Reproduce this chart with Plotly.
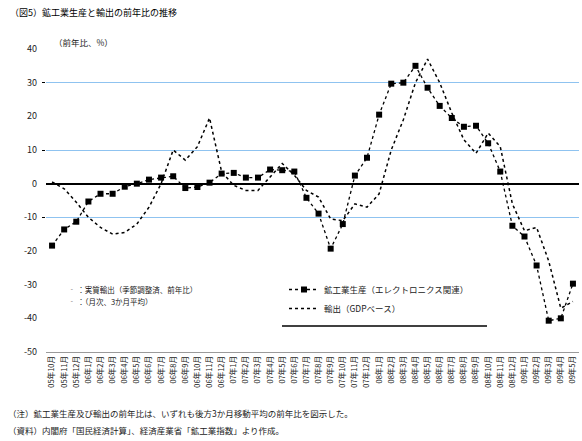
import plotly.graph_objects as go

# ---- data ----
months = ["05年10月", "05年11月", "05年12月",
          "06年1月", "06年2月", "06年3月", "06年4月", "06年5月", "06年6月",
          "06年7月", "06年8月", "06年9月", "06年10月", "06年11月", "06年12月",
          "07年1月", "07年2月", "07年3月", "07年4月", "07年5月", "07年6月",
          "07年7月", "07年8月", "07年9月", "07年10月", "07年11月", "07年12月",
          "08年1月", "08年2月", "08年3月", "08年4月", "08年5月", "08年6月",
          "08年7月", "08年8月", "08年9月", "08年10月", "08年11月", "08年12月",
          "09年1月", "09年2月", "09年3月", "09年4月", "09年5月"]

production = [-18.4, -13.6, -11.3, -5.3, -3.0, -3.0, -0.9, 0.0, 1.2, 1.8,
              2.2, -1.3, -1.0, 0.3, 3.0, 3.2, 1.8, 1.8, 4.2, 4.0,
              3.6, -4.2, -8.9, -19.3, -12.0, 2.4, 7.7, 20.5, 29.7, 30.0,
              35.0, 28.5, 23.1, 19.5, 16.9, 17.2, 12.0, 3.6, -12.5, -15.7,
              -24.3, -40.7, -40.0, -29.7]

exports = [0.5, -1.5, -5.5, -10.0, -13.0, -15.0, -14.5, -12.0, -7.0, 0.0,
           10.0, 7.0, 11.0, 19.5, 3.5, -0.5, -2.0, -2.0, 2.0, 6.0,
           2.5, -2.0, -4.0, -10.5, -11.0, -6.0, -7.0, -3.0, 10.0, 19.0,
           30.0, 37.0, 30.0, 21.0, 13.0, 9.0, 15.0, 11.0, -6.0, -14.0,
           -13.0, -23.0, -37.0, -35.0]

y_ticks = [40, 30, 20, 10, 0, -10, -20, -30, -40, -50]
grid_vals = [30, 10, -10]

name_prod = "鉱工業生産（エレクトロニクス関連）"
name_exp = "輸出（GDPベース）"
title_text = "（図5）鉱工業生産と輸出の前年比の推移"
unit_text = "（前年比、%）"
box_lines = ["‐ ：実質輸出（季節調整済、前年比）", "‐ ：（月次、3か月平均）"]
notes = ["（注）鉱工業生産及び輸出の前年比は、いずれも後方3か月移動平均の前年比を図示した。",
         "（資料）内閣府「国民経済計算」、経済産業省「鉱工業指数」より作成。"]

# ---- layout geometry ----
W, H = 582, 441
L, R, T, B = 46, 3, 49, 89
pw, ph = W - L - R, H - T - B


def px(x):
    return (x - L) / pw


def py(y):
    return (H - B - y) / ph


FONT = "Noto Sans CJK JP"

fig = go.Figure()
fig.add_trace(go.Scatter(
    x=months, y=production, name=name_prod, mode="lines+markers",
    line=dict(color="black", width=1.3, dash="dot"),
    marker=dict(symbol="square", size=6, color="black"),
))
fig.add_trace(go.Scatter(
    x=months, y=exports, name=name_exp, mode="lines",
    line=dict(color="black", width=1.5, dash="dot"),
))

annotations = [
    dict(text=title_text, x=px(8), y=py(13), xref="paper", yref="paper",
         xanchor="left", yanchor="middle", showarrow=False,
         font=dict(size=9, color="black", family=FONT)),
    dict(text=unit_text, x=px(52), y=py(42), xref="paper", yref="paper",
         xanchor="left", yanchor="middle", showarrow=False,
         font=dict(size=8.5, color="#222", family=FONT)),
]
for i, t in enumerate(box_lines):
    annotations.append(dict(text=t, x=px(66), y=py(289 + 12 * i), xref="paper", yref="paper",
                            xanchor="left", yanchor="middle", showarrow=False,
                            bgcolor="white",
                            font=dict(size=7.5, color="#222", family=FONT)))
for i, t in enumerate(notes):
    annotations.append(dict(text=t, x=px(6), y=py(413 + 17 * i), xref="paper", yref="paper",
                            xanchor="left", yanchor="middle", showarrow=False,
                            font=dict(size=8.5, color="#222", family=FONT)))

fig.update_layout(
    width=W, height=H,
    margin=dict(l=L, r=R, t=T, b=B),
    paper_bgcolor="white", plot_bgcolor="white",
    font=dict(family=FONT, color="#222"),
    showlegend=True,
    legend=dict(x=px(284), y=py(323), xanchor="left", yanchor="bottom",
                bgcolor="white", font=dict(size=8.5, family=FONT, color="#222"),
                itemwidth=30, tracegroupgap=0),
    annotations=annotations,
    shapes=[dict(type="line", xref="paper", yref="paper",
                 x0=px(282), x1=px(487), y0=py(326), y1=py(326),
                 line=dict(color="black", width=1.5))],
)

fig.update_xaxes(
    type="category", tickangle=-90, tickfont=dict(size=7.5, family=FONT, color="#222"),
    showgrid=False, showline=True, linecolor="#9a9a9a", linewidth=1, ticks="",
    range=[-0.5, len(months) - 0.5],
)
fig.update_yaxes(
    range=[-50, 40], tickvals=y_ticks, ticktext=[str(v) for v in y_ticks],
    tickfont=dict(size=9, family=FONT, color="#222"),
    showgrid=False, zeroline=True, zerolinecolor="black", zerolinewidth=1.5,
    showline=False, ticks="", ticklabelstandoff=8,
    minor=dict(tickmode="array", tickvals=grid_vals, showgrid=True,
               gridcolor="#8fc3f0", gridwidth=1.2, ticks="outside",
               ticklen=3, tickcolor="black"),
)

fig.write_html("out.html")
